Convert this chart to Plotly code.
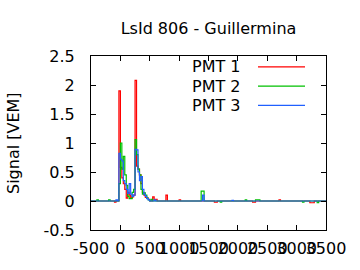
import plotly.graph_objects as go

title = "LsId 806 - Guillermina"
names = ["PMT 1", "PMT 2", "PMT 3"]
colors = ["#ff0000", "#00c000", "#2060ff"]

# step traces: left edge of each 25 ns bin (ns) and signal (VEM)
t1 = [-500, -100, -75, -25, 0, 25, 50, 75, 100, 125, 150, 175, 200, 225, 250, 275, 300, 325, 350, 375, 400, 425, 450, 475, 500,
      550, 575, 600, 625, 775, 800, 1000, 1025, 1600, 1650, 2250, 2300, 2700, 2725, 3225, 3300, 3400, 3500]
v1 = [0, -0.02, 0, 1.90, 0.58, 0.40, 0.30, 0.20, 0.05, 0.15, 0.10, 0.05, 0.07, 0.10, 2.08, 0.60, 0.55, 0.45, 0.30, 0.15, 0.10, 0.06, 0.05, 0.03, 0,
      0.07, 0.02, 0.03, 0, 0.10, 0, 0.02, 0, -0.02, 0, -0.02, 0, 0.02, 0, -0.03, 0, 0, 0]

t2 = [-500, -400, -375, -200, -175, -25, 0, 25, 50, 75, 100, 125, 150, 175, 200, 225, 250, 275, 300, 325, 350, 375, 400, 425, 450, 475, 500,
      525, 550, 1375, 1425, 1700, 1725, 2125, 2150, 2300, 2375, 3100, 3125, 3350, 3375, 3500]
v2 = [0, 0.02, 0, 0.02, 0, 0.30, 1.00, 0.55, 0.77, 0.45, 0.27, 0.08, 0.04, 0.04, 0.15, 0.20, 1.06, 0.80, 0.55, 0.45, 0.20, 0.12, 0.14, 0.10, 0.05, 0.02, 0,
      0.03, 0, 0.17, 0, -0.02, 0, 0.02, 0, 0.02, 0, -0.02, 0, -0.03, 0, 0]

t3 = [-500, -75, -50, -25, 0, 25, 50, 75, 100, 125, 150, 175, 200, 225, 250, 275, 300, 325, 350, 375, 400, 425, 450, 475, 500,
      575, 600, 1400, 1425, 1900, 1925, 3500]
v3 = [0, 0.02, 0, 0.82, 0.72, 0.69, 0.35, 0.30, 0.20, 0.13, 0.30, 0.12, 0.08, 0.10, 0.89, 0.88, 0.50, 0.35, 0.42, 0.20, 0.12, 0.08, 0.04, 0.02, 0,
      0.02, 0, 0.10, 0, 0.01, 0, 0]

x_ticks = [-500, 0, 500, 1000, 1500, 2000, 2500, 3000, 3500]
y_ticks = [-0.5, 0, 0.5, 1, 1.5, 2, 2.5]

FONT = "DejaVu Sans"
fig = go.Figure()
for t, v, n, c in zip([t1, t2, t3], [v1, v2, v3], names, colors):
    fig.add_trace(go.Scatter(x=t, y=v, mode="lines", line=dict(color=c, width=1.2, shape="hv"),
                             name=n, showlegend=False))

L, R, T, B = 91, 34, 56, 38
W, H = 360, 270
pw, ph = W - L - R, H - T - B

# manual legend (gnuplot style: text then sample line)
for i, (n, c) in enumerate(zip(names, colors)):
    py = 67 + i * 19.5
    yp = (H - B - py) / ph
    fig.add_annotation(x=(243 - L) / pw, y=yp, xref="paper", yref="paper", text=n, showarrow=False,
                       xanchor="right", yanchor="middle", font=dict(family=FONT, size=16, color="black"))
    fig.add_shape(type="line", xref="paper", yref="paper", x0=(258 - L) / pw, x1=(305 - L) / pw, y0=yp, y1=yp,
                  line=dict(color=c, width=1.2))

fig.add_annotation(x=(13 - L) / pw, y=0.5, xref="paper", yref="paper", text="Signal [VEM]", showarrow=False,
                   textangle=-90, xanchor="center", yanchor="middle", font=dict(family=FONT, size=16, color="black"))

fig.update_layout(
    width=W, height=H, margin=dict(l=L, r=R, t=T, b=B),
    paper_bgcolor="white", plot_bgcolor="white",
    font=dict(family=FONT, size=16, color="black"),
    title=dict(text=title, x=(L + pw / 2) / W, xanchor="center", y=1 - 28 / H, yanchor="middle", yref="container",
               font=dict(family=FONT, size=16, color="black")),
    xaxis=dict(range=[-500, 3500], tickvals=x_ticks, ticktext=[str(v) for v in x_ticks], tickangle=0,
               showgrid=False, zeroline=False, showline=True, linecolor="black", linewidth=1, mirror="ticks",
               ticks="inside", ticklen=5, tickcolor="black", ticklabelstandoff=4),
    yaxis=dict(range=[-0.5, 2.5], tickvals=y_ticks, ticktext=[f"{v:g}" for v in y_ticks],
               showgrid=False, zeroline=False, showline=True, linecolor="black", linewidth=1, mirror="ticks",
               ticks="inside", ticklen=5, tickcolor="black", ticklabelstandoff=12),
)
fig.write_html("out.html")
